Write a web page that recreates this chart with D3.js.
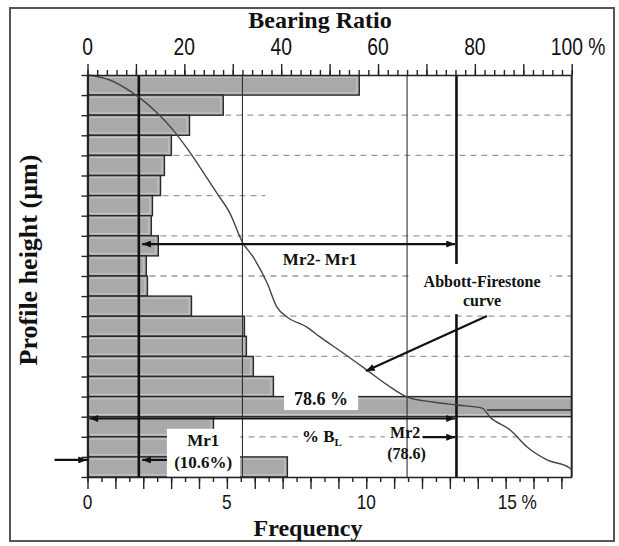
<!DOCTYPE html>
<html><head><meta charset="utf-8">
<script src="https://cdn.jsdelivr.net/npm/d3@7"></script>
<style>body{margin:0;background:#fff}svg{display:block}</style>
</head><body>
<svg id="chart" width="619" height="546"></svg>
<script>
// ---------- data ----------
// frequency (%) of each profile-height class, from the top of the profile (row 1) to the bottom (row 20)
const rowClasses = d3.range(1, 21);
const frequency = [9.75, 4.87, 3.66, 3.01, 2.76, 2.62, 2.33, 2.29, 2.54, 2.11,
                   2.15, 3.73, 5.63, 5.70, 5.95, 6.67, 18.7, 4.52, 3.5, 7.17];
// Abbott-Firestone curve: bearing ratio (%) vs depth (in class units from the top)
const curveBearing = [0, 4.6, 9.4, 10.8, 14.4, 17.7, 20.5, 23.2, 26.7, 29.4, 32.1, 34.2, 37.1, 39.1,
                      41.2, 45.3, 48.0, 52.8, 57.7, 61.9, 66.0, 71.3, 76.3, 81.5, 83.1, 87.3, 90.8, 94.9, 99.6, 100];
const curveDepth = [0, 0.25, 0.9, 1.14, 1.89, 2.74, 3.63, 4.58, 5.87, 6.87, 8.36, 9.05, 10.35, 11.54,
                    12.04, 12.54, 13.03, 13.83, 14.68, 15.42, 16.02, 16.27, 16.42, 16.57, 17.01, 17.66, 18.51, 19.15, 19.55, 19.65];
const bearingTicks = [0, 20, 40, 60, 80, 100];
const bearingTickLabels = ["0", "20", "40", "60", "80", "100 %"];
const freqTicks = [0, 5, 10, 15];
const freqTickLabels = ["0", "5", "10", "15 %"];
const mr1 = 10.6;          // Mr1 (%)
const mr2Line = 76.2;      // Mr2 marker line position on the bearing axis
const thinLines = [32, 66];
const dashedBounds = [2, 4, 6, 8, 10, 12, 14, 18];
const dashedEnds = [100, 100, 36.7, 100, 100, 100, 100, 100];

// ---------- scales ----------
const pL = 87.5, pR = 571.7, pT = 75, pB = 477;
const xB = d3.scaleLinear().domain([0, 100]).range([pL, pR]);
const xF = d3.scaleLinear().domain([0, 17.37]).range([pL, pR]);
const y = d3.scaleLinear().domain([0, 20]).range([pT, pB]);
const rowH = y(1) - y(0);

const serif = "'Liberation Serif','Times New Roman',serif";
const sans = "'Liberation Sans',Arial,sans-serif";
const svg = d3.select("#chart");
const defs = svg.append("defs");
defs.append("clipPath").attr("id", "plotclip").append("rect")
  .attr("x", pL).attr("y", pT).attr("width", pR - pL).attr("height", pB - pT);
const mk = defs.append("marker").attr("id", "ah").attr("viewBox", "0 0 10 8")
  .attr("refX", 10).attr("refY", 4).attr("markerWidth", 10).attr("markerHeight", 7)
  .attr("markerUnits", "userSpaceOnUse").attr("orient", "auto-start-reverse");
mk.append("path").attr("d", "M0,0L10,4L0,8Z").attr("fill", "#111");

// frame
svg.append("rect").attr("x", 10).attr("y", 8).attr("width", 604).attr("height", 533)
  .attr("fill", "none").attr("stroke", "#555").attr("stroke-width", 2);

// ---------- bars ----------
const bars = svg.append("g").attr("clip-path", "url(#plotclip)");
const barData = rowClasses.map((r, i) => ({i, f: frequency[i]}));
bars.selectAll("rect.bar").data(barData).join("rect").attr("class", "bar")
  .attr("x", xF(0)).attr("y", d => y(d.i)).attr("width", d => xF(d.f) - xF(0)).attr("height", rowH)
  .attr("fill", "#a9a9a9").attr("stroke", "#2a2a2a").attr("stroke-width", 1.4);
bars.selectAll("rect.hl").data(barData).join("rect").attr("class", "hl")
  .attr("x", xF(0) + 2).attr("y", d => y(d.i) + 2.2).attr("width", d => Math.max(0, xF(d.f) - xF(0) - 4.5)).attr("height", rowH - 4.4)
  .attr("fill", "none").attr("stroke", "#c9c9c9").attr("stroke-width", 1);
// inner line of the large class
bars.append("line").attr("x1", xF(14.33)).attr("x2", xF(17.37)).attr("y1", y(16.67)).attr("y2", y(16.67))
  .attr("stroke", "#333").attr("stroke-width", 1.6);

// ---------- dashed lines ----------
svg.append("g").selectAll("line").data(dashedBounds).join("line")
  .attr("x1", (b) => xF(Math.max(frequency[b - 1], frequency[b])) + 2)
  .attr("x2", (b, k) => xB(dashedEnds[k]))
  .attr("y1", b => y(b)).attr("y2", b => y(b))
  .attr("stroke", "#9a9a9a").attr("stroke-width", 1.3).attr("stroke-dasharray", "6,5");

// white box behind Mr2 label (under the vertical lines)
function box(b0, b1, r0, r1) {
  return svg.append("rect").attr("x", xB(b0)).attr("y", y(r0)).attr("width", xB(b1) - xB(b0)).attr("height", y(r1) - y(r0)).attr("fill", "#fff");
}
box(61.4, 69.0, 17.45, 19.35);

// ---------- vertical lines ----------
const vl = svg.append("g");
thinLines.forEach(v => vl.append("line").attr("x1", xB(v)).attr("x2", xB(v)).attr("y1", y(0)).attr("y2", y(20)).attr("stroke", "#333").attr("stroke-width", 1.1));
[mr1, mr2Line].forEach(v => vl.append("line").attr("x1", xB(v)).attr("x2", xB(v)).attr("y1", y(0)).attr("y2", y(20)).attr("stroke", "#111").attr("stroke-width", 2.6));
vl.append("line").attr("x1", xB(100)).attr("x2", xB(100)).attr("y1", y(0)).attr("y2", y(20)).attr("stroke", "#222").attr("stroke-width", 2);

// ---------- curve ----------
const curvePts = curveBearing.map((b, i) => [xB(b), y(curveDepth[i])]);
svg.append("path").attr("d", d3.line().curve(d3.curveMonotoneX)(curvePts))
  .attr("fill", "none").attr("stroke", "#444").attr("stroke-width", 1.4);

// ---------- axes ----------
function styleAxis(g, w) { g.selectAll("path,line").attr("stroke", "#222").attr("stroke-width", w); }
const gt = svg.append("g").attr("transform", `translate(0,${y(0)})`);
gt.call(d3.axisTop(xB).tickValues(d3.range(0, 101, 2)).tickSize(5).tickFormat("").tickSizeOuter(0));
gt.call(g => styleAxis(g, 1.4));
const gt2 = svg.append("g").attr("transform", `translate(0,${y(0)})`);
gt2.call(d3.axisTop(xB).tickValues(d3.range(0, 101, 10)).tickSize(11).tickFormat("").tickSizeOuter(0));
gt2.call(g => styleAxis(g, 1.4));
gt2.select(".domain").remove();

const gb = svg.append("g").attr("transform", `translate(0,${y(20)})`);
gb.call(d3.axisBottom(xF).tickValues(d3.range(0, 17.01, 0.5)).tickSize(5).tickFormat("").tickSizeOuter(0));
gb.call(g => styleAxis(g, 1.4));
const gb2 = svg.append("g").attr("transform", `translate(0,${y(20)})`);
gb2.call(d3.axisBottom(xF).tickValues(d3.range(0, 17.01, 1)).tickSize(12).tickFormat("").tickSizeOuter(0));
gb2.call(g => styleAxis(g, 1.4));
gb2.select(".domain").remove();

const gl = svg.append("g").attr("transform", `translate(${xF(0)},0)`);
gl.call(d3.axisLeft(y).tickValues(d3.range(0, 21)).tickSize(6).tickFormat("").tickSizeOuter(0));
gl.call(g => styleAxis(g, 1.4));
gl.select(".domain").attr("stroke-width", 2.4);

// tick labels (narrow sans, horizontally condensed)
svg.append("g").selectAll("text").data(bearingTicks).join("text")
  .attr("transform", (d, i) => `translate(${i === bearingTicks.length - 1 ? xB(d) - 21 : xB(d)},55) scale(0.84,1)`)
  .attr("text-anchor", (d, i) => i === bearingTicks.length - 1 ? "start" : "middle")
  .attr("font-family", sans).attr("font-size", 23).attr("fill", "#111")
  .text((d, i) => bearingTickLabels[i]);
svg.append("g").selectAll("text").data(freqTicks).join("text")
  .attr("transform", (d, i) => `translate(${i === freqTicks.length - 1 ? xF(d) - 8 : xF(d)},509) scale(0.82,1)`)
  .attr("text-anchor", (d, i) => i === freqTicks.length - 1 ? "start" : "middle")
  .attr("font-family", sans).attr("font-size", 21).attr("fill", "#111")
  .text((d, i) => freqTickLabels[i]);

// ---------- annotation boxes & text ----------
function label(b, r, txt, size) {
  return svg.append("text").attr("x", xB(b)).attr("y", y(r)).attr("text-anchor", "middle")
    .attr("font-family", serif).attr("font-weight", "bold").attr("font-size", size || 16).attr("fill", "#111").text(txt);
}
box(66.9, 95.5, 9.4, 11.9);
label(81.5, 10.55, "Abbott-Firestone");
label(81.5, 11.5, "curve");
box(40.6, 55.9, 15.5, 16.67);
label(48.2, 16.42, "78.6 %", 18);
box(16.4, 31.5, 17.6, 19.98);
label(23.9, 18.45, "Mr1", 17);
label(23.9, 19.55, "(10.6%)", 17);
box(43.5, 54.0, 17.55, 18.55);
const bl = label(48.4, 18.25, "% B", 17);
bl.append("tspan").attr("font-size", 11).attr("dy", 4).text("L");
label(48.0, 9.45, "Mr2- Mr1", 17);
label(65.6, 18.06, "Mr2", 16);
label(65.9, 19.12, "(78.6)", 16);

// ---------- arrows ----------
function arrow(b1, r1, b2, r2, both) {
  const l = svg.append("line").attr("x1", xB(b1)).attr("y1", y(r1)).attr("x2", xB(b2)).attr("y2", y(r2))
    .attr("stroke", "#111").attr("stroke-width", 2.2).attr("marker-end", "url(#ah)");
  if (both) l.attr("marker-start", "url(#ah)");
}
arrow(mr1 + 0.7, 8.41, mr2Line - 0.3, 8.41, true);
arrow(0.4, 17.09, mr2Line - 0.3, 17.09, true);
arrow(69.2, 18.02, mr2Line - 0.3, 18.02, false);
arrow(-6.8, 19.15, -0.1, 19.15, false);
arrow(16.4, 19.15, mr1 + 0.7, 19.15, false);
arrow(82.5, 11.99, 57.5, 14.73, false);

// ---------- titles ----------
svg.append("text").attr("x", 320).attr("y", 28).attr("text-anchor", "middle")
  .attr("font-family", serif).attr("font-weight", "bold").attr("font-size", 24).attr("fill", "#111").text("Bearing Ratio");
svg.append("text").attr("x", 308).attr("y", 536).attr("text-anchor", "middle")
  .attr("font-family", serif).attr("font-weight", "bold").attr("font-size", 24).attr("fill", "#111").text("Frequency");
svg.append("text").attr("transform", "translate(37,260) rotate(-90)").attr("text-anchor", "middle")
  .attr("font-family", serif).attr("font-weight", "bold").attr("font-size", 26).attr("fill", "#111").text("Profile height (µm)");
</script>
</body></html>
